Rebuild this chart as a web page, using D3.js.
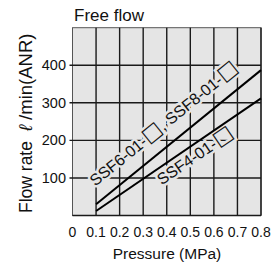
<!DOCTYPE html>
<html>
<head>
<meta charset="utf-8">
<script src="https://cdn.jsdelivr.net/npm/d3@7"></script>
<style>
  html, body { margin: 0; padding: 0; background: #fff; }
  svg { display: block; font-family: "Liberation Sans", Arial, sans-serif; }
</style>
</head>
<body>
<svg id="chart" width="279" height="268"></svg>
<script>
// Free flow chart: flow rate vs. pressure for the SSF speed controllers.

const pressureTicks = [0, 0.1, 0.2, 0.3, 0.4, 0.5, 0.6, 0.7, 0.8];
const flowTicks = [100, 200, 300, 400];
const pressurePoints = [0.1, 0.8];
const ssf68Flow = [30, 387];
const ssf4Flow = [12, 312];
const seriesLabels = [["SSF6-01-", ", SSF8-01-"], ["SSF4-01-"]];

const plotBg = "#e5e5e5";

const svg = d3.select("#chart");
const x = d3.scaleLinear().domain([0, 0.8]).range([72.5, 261]);
const y = d3.scaleLinear().domain([0, 500]).range([215.5, 27.7]);

// plot background
svg.append("rect")
  .attr("x", x(0)).attr("y", y(500))
  .attr("width", x(0.8) - x(0)).attr("height", y(0) - y(500))
  .attr("fill", plotBg)
  .attr("stroke", "#555").attr("stroke-width", 1);

const grid = svg.append("g").attr("stroke", "#1a1a1a").attr("stroke-width", 1.4);

grid.selectAll("line.v")
  .data(pressureTicks.filter(d => d > 0))
  .join("line")
  .attr("class", "v")
  .attr("x1", d => x(d)).attr("x2", d => x(d))
  .attr("y1", y(500)).attr("y2", y(0));

grid.selectAll("line.h")
  .data(flowTicks)
  .join("line")
  .attr("class", "h")
  .attr("x1", x(0) - 3).attr("x2", x(0.8))
  .attr("y1", d => y(d)).attr("y2", d => y(d));

grid.append("line")
  .attr("x1", x(0)).attr("x2", x(0.8))
  .attr("y1", y(0)).attr("y2", y(0));

// series labels, knocked out of the grid with a halo
function seriesLine(flows) {
  return pressurePoints.map((p, i) => [x(p), y(flows[i])]);
}

function placeLabel(flows, parts, atPressure, offset) {
  const pts = seriesLine(flows);
  const a = Math.atan2(pts[1][1] - pts[0][1], pts[1][0] - pts[0][0]);
  const t = (atPressure - pressurePoints[0]) / (pressurePoints[1] - pressurePoints[0]);
  const px = pts[0][0] + t * (pts[1][0] - pts[0][0]) + Math.sin(a) * offset;
  const py = pts[0][1] + t * (pts[1][1] - pts[0][1]) - Math.cos(a) * offset;
  const label = svg.append("text")
    .attr("transform", `translate(${px},${py}) rotate(${a * 180 / Math.PI})`)
    .attr("font-size", 16)
    .attr("fill", "#111")
    .attr("stroke", plotBg).attr("stroke-width", 5)
    .attr("paint-order", "stroke");
  parts.forEach(part => {
    label.append("tspan").text(part);
    label.append("tspan")
      .attr("font-family", "DejaVu Sans")
      .attr("font-size", 21)
      .text("\u25A1");
  });
}

placeLabel(ssf68Flow, seriesLabels[0], 0.134, 14);
placeLabel(ssf4Flow, seriesLabels[1], 0.34, -16);

// curves
const line = d3.line();
[ssf68Flow, ssf4Flow].forEach(flows => {
  svg.append("path")
    .attr("d", line(seriesLine(flows)))
    .attr("fill", "none")
    .attr("stroke", "#000")
    .attr("stroke-width", 2);
});

// tick labels
svg.append("g")
  .selectAll("text")
  .data(pressureTicks)
  .join("text")
  .attr("x", d => x(d)).attr("y", 236.5)
  .attr("text-anchor", "middle")
  .attr("font-size", 14)
  .attr("fill", "#111")
  .text(d => d3.format(".1~f")(d));

svg.append("g")
  .selectAll("text")
  .data(flowTicks)
  .join("text")
  .attr("x", 66).attr("y", d => y(d) + 5)
  .attr("text-anchor", "end")
  .attr("font-size", 14.5)
  .attr("fill", "#111")
  .text(d => d);

// titles
svg.append("text")
  .attr("x", 74).attr("y", 20.7)
  .attr("font-size", 17)
  .attr("fill", "#111")
  .text("Free flow");

svg.append("text")
  .attr("x", 167).attr("y", 259)
  .attr("text-anchor", "middle")
  .attr("font-size", 15.5)
  .attr("fill", "#111")
  .text("Pressure (MPa)");

const yTitle = svg.append("text")
  .attr("transform", "translate(32,213) rotate(-90)")
  .attr("fill", "#111");
yTitle.append("tspan").attr("font-size", 17.5).text("Flow rate");
yTitle.append("tspan").attr("dx", 10).attr("font-size", 18.5).attr("font-style", "italic").text("\u2113");
yTitle.append("tspan").attr("font-size", 18.5).text(" /min(ANR)");
</script>
</body>
</html>
